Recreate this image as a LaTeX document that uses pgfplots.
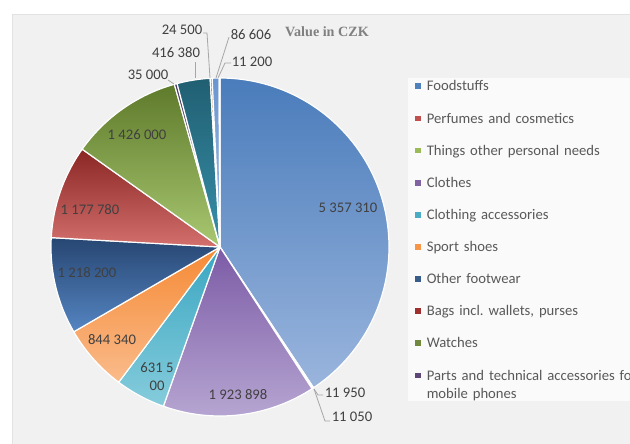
\documentclass[border=0pt]{standalone}
\usepackage{fontspec}
\setmainfont{Carlito}
\newfontfamily\titlefont{Liberation Serif}
\usepackage{xfp}
\usepackage{pgfplots}
\usepackage{pgfplotstable}
\pgfplotsset{compat=1.18}

% slice gradients (top / bottom) in Excel 2010 order
\definecolor{t0}{HTML}{4A7CBB}\definecolor{b0}{HTML}{9AB5DD}
\definecolor{t1}{HTML}{B5413F}\definecolor{b1}{HTML}{D98886}
\definecolor{t2}{HTML}{8CAE4A}\definecolor{b2}{HTML}{B6D087}
\definecolor{t3}{HTML}{7C5BA6}\definecolor{b3}{HTML}{B8A8D3}
\definecolor{t4}{HTML}{3AA6C1}\definecolor{b4}{HTML}{85CCDC}
\definecolor{t5}{HTML}{F58A35}\definecolor{b5}{HTML}{FABB8B}
\definecolor{t6}{HTML}{274672}\definecolor{b6}{HTML}{5585C2}
\definecolor{t7}{HTML}{8A2624}\definecolor{b7}{HTML}{D3706E}
\definecolor{t8}{HTML}{5E7A2B}\definecolor{b8}{HTML}{A9C871}
\definecolor{t9}{HTML}{4A375F}\definecolor{b9}{HTML}{7C68A2}
\definecolor{t10}{HTML}{215F72}\definecolor{b10}{HTML}{3790AA}
\definecolor{t11}{HTML}{B05408}\definecolor{b11}{HTML}{E08A3E}
\definecolor{t12}{HTML}{6A95CF}\definecolor{b12}{HTML}{A3C0E6}
\definecolor{t13}{HTML}{C9605E}\definecolor{b13}{HTML}{E4A5A3}
% legend markers
\definecolor{m0}{HTML}{4F81BD}\definecolor{m1}{HTML}{C0504D}
\definecolor{m2}{HTML}{9BBB59}\definecolor{m3}{HTML}{8064A2}
\definecolor{m4}{HTML}{4BACC6}\definecolor{m5}{HTML}{F79646}
\definecolor{m6}{HTML}{385D8A}\definecolor{m7}{HTML}{A0302E}
\definecolor{m8}{HTML}{71893F}\definecolor{m9}{HTML}{5C4776}

\definecolor{panel}{HTML}{F1F1F1}
\definecolor{panelline}{HTML}{E2E2E2}
\definecolor{legbg}{HTML}{FAFAFA}
\definecolor{legtext}{HTML}{595959}
\definecolor{lbltext}{HTML}{404040}
\definecolor{titlegray}{HTML}{808080}
\definecolor{leadgray}{HTML}{A6A6A6}

\tikzset{
  lbl/.style={font=\fontsize{11}{13.5}\selectfont, text=lbltext, inner sep=0pt},
  leader/.style={draw=leadgray, line width=0.6pt},
}

\pgfplotstableread{
value
5357310
11950
11050
1923898
631500
844340
1218200
1177780
1426000
35000
416380
24500
86606
11200
}\piedata

\begin{document}
\frenchspacing
\begin{tikzpicture}
% cumulative slice angles (clockwise from 12 o'clock)
\def\total{0}
\pgfplotsforeachungrouped \i in {0,...,13}{%
  \pgfplotstablegetelem{\i}{value}\of\piedata
  \xdef\total{\fpeval{\total+\pgfplotsretval}}}
\def\cum{0}
\pgfplotsforeachungrouped \i in {0,...,13}{%
  \pgfplotstablegetelem{\i}{value}\of\piedata
  \expandafter\xdef\csname pa\i\endcsname{\fpeval{round(90-360*\cum/\total,3)}}%
  \xdef\cum{\fpeval{\cum+\pgfplotsretval}}%
  \expandafter\xdef\csname pb\i\endcsname{\fpeval{round(90-360*\cum/\total,3)}}}

\useasboundingbox (0,0) rectangle (472.5pt,332.25pt);
\clip (0,0) rectangle (472.5pt,332.25pt);
\fill[white] (0,0) rectangle (472.5pt,332.25pt);
\filldraw[fill=panel, draw=panelline] (9pt,-1pt) rectangle (474pt,321.75pt);
\fill[legbg] (306pt,31.5pt) rectangle (480pt,273.75pt);

\begin{axis}[
    at={(0,0)}, anchor=south west,
    x=0.75pt, y=0.75pt, y dir=reverse,
    xmin=0, xmax=630, ymin=0, ymax=443,
    hide axis, clip=false,
    legend image code/.code={\fill[#1, draw=none] (0pt,1.3pt) rectangle (5pt,5.6pt);
                             \path[draw=none, fill=none] (0pt,1.3pt) -- (9pt,1.3pt);},
    legend style={at={(axis cs:414.5,78)}, anchor=north west,
        draw=none, fill=none, inner sep=0pt, row sep=10.6pt, column sep=0pt,
        font=\fontsize{11}{13.5}\selectfont, text=legtext,
        cells={anchor=base west},
        nodes={inner sep=0pt, text depth=, text width=250pt, align=left}},
]
\pgfplotsinvokeforeach{0,...,13}{
  \shadedraw[top color=t#1, bottom color=b#1, draw=white, line width=0.9pt, line join=round]
    (axis cs:220,247) -- ++(\csname pa#1\endcsname:126.75pt)
    arc[start angle=\csname pa#1\endcsname, end angle=\csname pb#1\endcsname, radius=126.75pt]
    -- cycle;
}

\addlegendimage{fill=m0}\addlegendentry{\strut Foodstuffs}
\addlegendimage{fill=m1}\addlegendentry{\strut Perfumes and cosmetics}
\addlegendimage{fill=m2}\addlegendentry{\strut Things other personal needs}
\addlegendimage{fill=m3}\addlegendentry{\strut Clothes}
\addlegendimage{fill=m4}\addlegendentry{\strut Clothing accessories}
\addlegendimage{fill=m5}\addlegendentry{\strut Sport shoes}
\addlegendimage{fill=m6}\addlegendentry{\strut Other footwear}
\addlegendimage{fill=m7}\addlegendentry{\strut Bags incl. wallets, purses}
\addlegendimage{fill=m8}\addlegendentry{\strut Watches}
\addlegendimage{fill=m9}\addlegendentry{\strut Parts and technical accessories for\\mobile phones\strut}

% data labels
\node[lbl] at (axis cs:348,208) {5 357 310};
\node[lbl] at (axis cs:238,395) {1 923 898};
\node[lbl, align=center] at (axis cs:157,377) {631 5\\00};
\node[lbl] at (axis cs:112,340) {844 340};
\node[lbl] at (axis cs:87,273) {1 218 200};
\node[lbl] at (axis cs:90,210) {1 177 780};
\node[lbl] at (axis cs:137,135) {1 426 000};
\node[lbl] at (axis cs:148,75) {35 000};
\node[lbl] at (axis cs:176,53) {416 380};
\node[lbl] at (axis cs:182,30) {24 500};
\node[lbl] at (axis cs:251,35) {86 606};
\node[lbl] at (axis cs:252,62) {11 200};
\node[lbl] at (axis cs:345,393) {11 950};
\node[lbl] at (axis cs:352,417) {11 050};

% leader lines
\draw[leader] (axis cs:314,389) -- (axis cs:318,395) -- (axis cs:323,395);
\draw[leader] (axis cs:314,389) -- (axis cs:325,421) -- (axis cs:330,421);
\draw[leader] (axis cs:203,33) -- (axis cs:207,33) -- (axis cs:210,78);
\draw[leader] (axis cs:229,37) -- (axis cs:216,78);
\draw[leader] (axis cs:231,63) -- (axis cs:225,63) -- (axis cs:218,78);
\draw[leader] (axis cs:195,62) -- (axis cs:195,78);
\draw[leader] (axis cs:168,80) -- (axis cs:174,84);

\node[font=\titlefont\bfseries\fontsize{10.6}{12}\selectfont, text=titlegray]
  at (axis cs:327,32) {Value in CZK};
\end{axis}
\end{tikzpicture}
\end{document}
